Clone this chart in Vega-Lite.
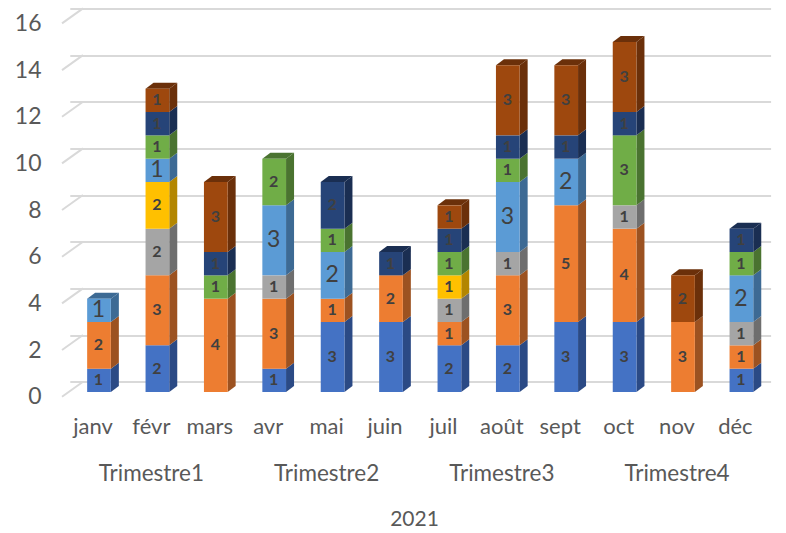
{
"$schema":"https://vega.github.io/schema/vega-lite/v6.json",
"width":703,"height":373.3,
"autosize":{"type":"none"},
"padding":{"left":83,"top":8.4,"right":0,"bottom":151.3},
"background":"white",
"config":{"view":{"stroke":null},"font":"Lato"},
"datasets":{
"bars":[
{"mois":"janv","serie":1,"valeur":1},{"mois":"janv","serie":2,"valeur":2},{"mois":"janv","serie":5,"valeur":1},
{"mois":"févr","serie":1,"valeur":2},{"mois":"févr","serie":2,"valeur":3},{"mois":"févr","serie":3,"valeur":2},{"mois":"févr","serie":4,"valeur":2},{"mois":"févr","serie":5,"valeur":1},{"mois":"févr","serie":6,"valeur":1},{"mois":"févr","serie":7,"valeur":1},{"mois":"févr","serie":8,"valeur":1},
{"mois":"mars","serie":2,"valeur":4},{"mois":"mars","serie":6,"valeur":1},{"mois":"mars","serie":7,"valeur":1},{"mois":"mars","serie":8,"valeur":3},
{"mois":"avr","serie":1,"valeur":1},{"mois":"avr","serie":2,"valeur":3},{"mois":"avr","serie":3,"valeur":1},{"mois":"avr","serie":5,"valeur":3},{"mois":"avr","serie":6,"valeur":2},
{"mois":"mai","serie":1,"valeur":3},{"mois":"mai","serie":2,"valeur":1},{"mois":"mai","serie":5,"valeur":2},{"mois":"mai","serie":6,"valeur":1},{"mois":"mai","serie":7,"valeur":2},
{"mois":"juin","serie":1,"valeur":3},{"mois":"juin","serie":2,"valeur":2},{"mois":"juin","serie":7,"valeur":1},
{"mois":"juil","serie":1,"valeur":2},{"mois":"juil","serie":2,"valeur":1},{"mois":"juil","serie":3,"valeur":1},{"mois":"juil","serie":4,"valeur":1},{"mois":"juil","serie":6,"valeur":1},{"mois":"juil","serie":7,"valeur":1},{"mois":"juil","serie":8,"valeur":1},
{"mois":"août","serie":1,"valeur":2},{"mois":"août","serie":2,"valeur":3},{"mois":"août","serie":3,"valeur":1},{"mois":"août","serie":5,"valeur":3},{"mois":"août","serie":6,"valeur":1},{"mois":"août","serie":7,"valeur":1},{"mois":"août","serie":8,"valeur":3},
{"mois":"sept","serie":1,"valeur":3},{"mois":"sept","serie":2,"valeur":5},{"mois":"sept","serie":5,"valeur":2},{"mois":"sept","serie":7,"valeur":1},{"mois":"sept","serie":8,"valeur":3},
{"mois":"oct","serie":1,"valeur":3},{"mois":"oct","serie":2,"valeur":4},{"mois":"oct","serie":3,"valeur":1},{"mois":"oct","serie":6,"valeur":3},{"mois":"oct","serie":7,"valeur":1},{"mois":"oct","serie":8,"valeur":3},
{"mois":"nov","serie":2,"valeur":3},{"mois":"nov","serie":8,"valeur":2},
{"mois":"déc","serie":1,"valeur":1},{"mois":"déc","serie":2,"valeur":1},{"mois":"déc","serie":3,"valeur":1},{"mois":"déc","serie":5,"valeur":2},{"mois":"déc","serie":6,"valeur":1},{"mois":"déc","serie":7,"valeur":1}
],
"grille":[{"v":0},{"v":2},{"v":4},{"v":6},{"v":8},{"v":10},{"v":12},{"v":14},{"v":16}],
"trimestres":[{"mois":"févr","trimestre":"Trimestre1"},{"mois":"mai","trimestre":"Trimestre2"},{"mois":"août","trimestre":"Trimestre3"},{"mois":"nov","trimestre":"Trimestre4"}]
},
"layer":[
{
"data":{"name":"grille"},
"mark":{"type":"point","filled":false,"stroke":"#D9D9D9","strokeWidth":2,"size":4,"opacity":1,"shape":"M0,0L-21,15","xOffset":-16},
"encoding":{
"x":{"datum":"janv","type":"nominal","scale":{"domain":["janv","févr","mars","avr","mai","juin","juil","août","sept","oct","nov","déc"],"range":[-13.2,687.6],"paddingInner":0,"paddingOuter":0},
"axis":{"title":"2021","titleFont":"Lato","titleFontSize":21,"titleFontWeight":"normal","titleColor":"#595959","titleX":331,"titleY":138,"titleBaseline":"middle","labelFontSize":22,"labelColor":"#595959","labelAngle":0,"labelPadding":45,"labelOffset":-6,"ticks":false,"domain":false,"grid":false,"labelBaseline":"middle"}},
"y":{"field":"v","type":"quantitative","scale":{"domain":[0,16],"nice":false},
"axis":{"title":null,"values":[0,2,4,6,8,10,12,14,16],"grid":true,"gridColor":"#D9D9D9","gridWidth":2,"ticks":false,"domain":false,"labelFontSize":23,"labelColor":"#595959","labelPadding":42,"labelOffset":15}}
}
},
{
"data":{"name":"bars"},
"transform":[{"stack":"valeur","groupby":["mois"],"sort":[{"field":"serie"}],"as":["y0","y1"]}],
"mark":{"type":"point","filled":true,"size":4,"opacity":1,"xOffset":11.85,"yOffset":10.3},
"encoding":{
"x":{"field":"mois","type":"nominal"},
"y":{"field":"y1","type":"quantitative"},
"fill":{"field":"serie","type":"ordinal","legend":null,"scale":{"domain":[1,2,3,4,5,6,7,8],"range":["#2B4A85","#9C5221","#6E6E6E","#B38600","#3D6A94","#4A7330","#1A2E52","#6B300A"]}},
"shape":{"field":"valeur","type":"ordinal","legend":null,"scale":{"domain":[1,2,3,4,5],"range":["M0,0L8,-6L8,17.33L0,23.33Z","M0,0L8,-6L8,40.67L0,46.67Z","M0,0L8,-6L8,64L0,70Z","M0,0L8,-6L8,87.33L0,93.33Z","M0,0L8,-6L8,110.67L0,116.67Z"]}}
}
},
{
"data":{"name":"bars"},
"transform":[{"stack":"valeur","groupby":["mois"],"sort":[{"field":"serie"}],"as":["y0","y1"]},
{"window":[{"op":"rank","as":"rang"}],"groupby":["mois"],"sort":[{"field":"serie","order":"descending"}]},
{"filter":"datum.rang === 1"}],
"mark":{"type":"point","filled":true,"size":4,"opacity":1,"xOffset":-11.85,"yOffset":10.3,"shape":"M0,0L8,-6L31.7,-6L23.7,0Z"},
"encoding":{
"x":{"field":"mois","type":"nominal"},
"y":{"field":"y1","type":"quantitative"},
"fill":{"field":"serie","type":"ordinal","legend":null}
}
},
{
"data":{"name":"bars"},
"transform":[{"stack":"valeur","groupby":["mois"],"sort":[{"field":"serie"}],"as":["y0","y1"]}],
"mark":{"type":"bar","width":23.7,"yOffset":10.3,"y2Offset":10.3},
"encoding":{
"x":{"field":"mois","type":"nominal"},
"y":{"field":"y1","type":"quantitative"},
"y2":{"field":"y0"},
"color":{"field":"serie","type":"ordinal","legend":null,"scale":{"domain":[1,2,3,4,5,6,7,8],"range":["#4472C4","#ED7D31","#A5A5A5","#FFC000","#5B9BD5","#70AD47","#264478","#9E480E"]}}
}
},
{
"data":{"name":"bars"},
"mark":{"type":"text","fontWeight":"bold","fontSize":16,"fill":"#404040","yOffset":10.3,"xOffset":-0.5,"baseline":"middle"},
"encoding":{
"x":{"field":"mois","type":"nominal"},
"y":{"field":"valeur","type":"quantitative","stack":"zero","bandPosition":0.5},
"order":{"field":"serie","type":"quantitative"},
"text":{"field":"valeur","type":"quantitative"},
"opacity":{"condition":{"test":"datum.serie !== 5","value":1},"value":0}
}
},
{
"data":{"name":"bars"},
"mark":{"type":"text","fontWeight":"normal","fontSize":23,"fill":"#404040","yOffset":10.3,"xOffset":-0.5,"baseline":"middle"},
"encoding":{
"x":{"field":"mois","type":"nominal"},
"y":{"field":"valeur","type":"quantitative","stack":"zero","bandPosition":0.5},
"order":{"field":"serie","type":"quantitative"},
"text":{"field":"valeur","type":"quantitative"},
"opacity":{"condition":{"test":"datum.serie === 5","value":1},"value":0}
}
},
{
"data":{"name":"trimestres"},
"mark":{"type":"text","fontSize":22.5,"fill":"#595959","baseline":"middle","xOffset":-6,"yOffset":92.5},
"encoding":{
"x":{"field":"mois","type":"nominal"},
"y":{"datum":0,"type":"quantitative"},
"text":{"field":"trimestre","type":"nominal"}
}
}
]
}
